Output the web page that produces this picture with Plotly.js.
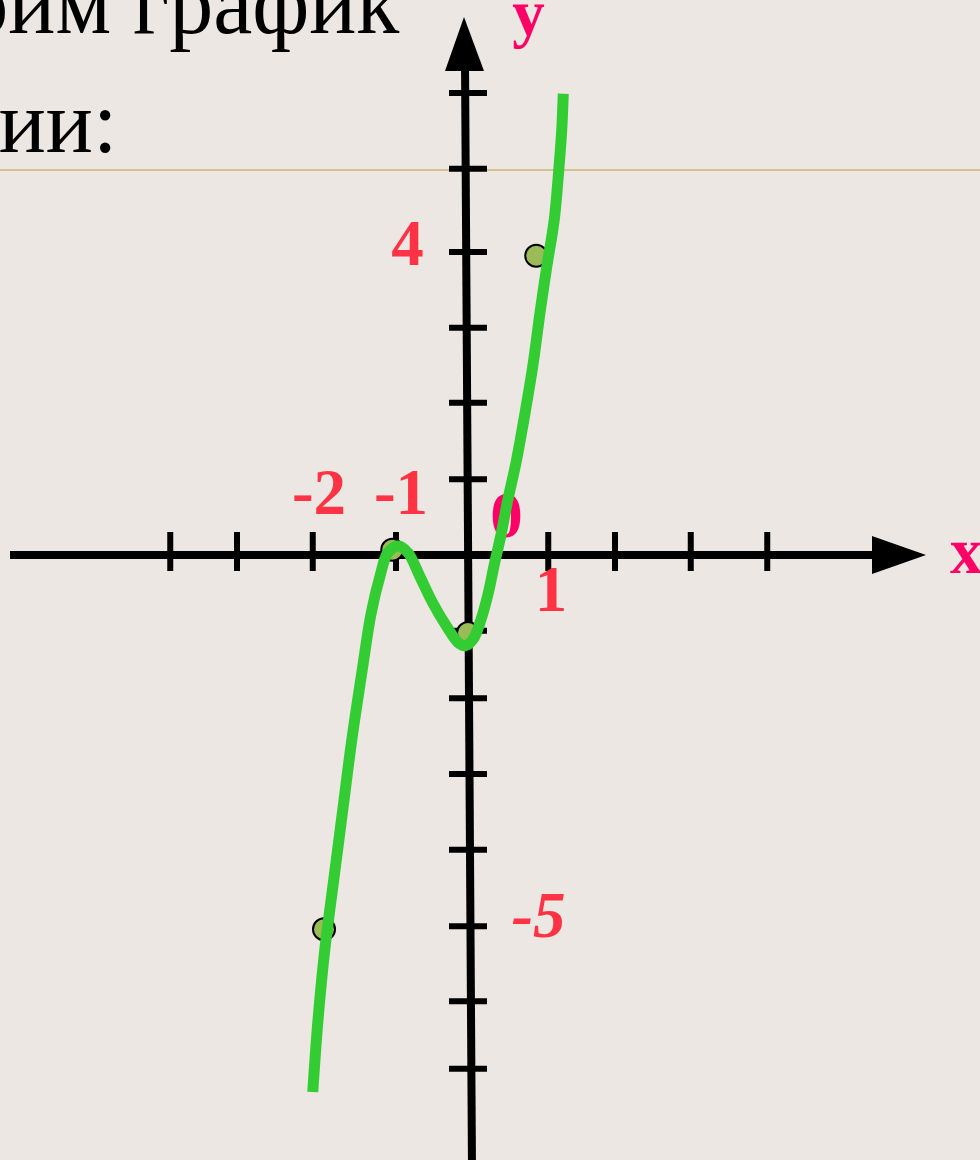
<!DOCTYPE html>
<html><head><meta charset="utf-8">
<script src="https://cdn.plot.ly/plotly-3.0.1.min.js"></script>
<style>html,body{margin:0;padding:0;background:#ECE7E2;overflow:hidden;} #chart{width:980px;height:1160px;}</style>
</head><body><div id="chart"></div>
<script>
// ---- data (axis units) ----
const curveX = [-2.07, -2.00, -1.91, -1.79, -1.67, -1.55, -1.41, -1.29, -1.17, -1.07, -0.93, -0.80, -0.64, -0.47, -0.28, -0.13, -0.04, 0.07, 0.17, 0.27, 0.35, 0.44, 0.53, 0.64, 0.76, 0.87, 0.96, 1.05, 1.15, 1.21, 1.25, 1.27];
const curveY = [-7.16, -6.20, -5.27, -4.33, -3.40, -2.47, -1.53, -0.77, -0.27, 0.03, 0.12, 0.03, -0.29, -0.64, -0.96, -1.17, -1.21, -1.12, -0.87, -0.51, -0.13, 0.27, 0.73, 1.23, 1.89, 2.56, 3.23, 3.84, 4.47, 5.13, 5.67, 6.15];
const pointX = [-1.92, -1.01, 0.00, 0.91];
const pointY = [-4.99, 0.07, -1.04, 3.99];
const xTickVals = [-3.97, -3.08, -2.07, -0.96, 1.07, 1.96, 2.97, 3.99];
const yTickVals = [6.16, 5.15, 4.04, 3.03, 2.03, 1.01, -1.01, -1.91, -2.92, -3.93, -4.95, -5.95, -6.85];
const axisLabels = ['-2', '-1', '0', '1', '4', '-5'];
const axisNames = ['x', 'y'];
const titleLines = ['Построим график', 'функции:'];

// ---- layout geometry (pixels -> axis units) ----
const W = 980, H = 1160, OX = 468, OY = 555, U = 75;
const dx = p => (p - OX) / U;
const dy = p => (OY - p) / U;
const SERIF = 'Liberation Serif, Times New Roman, serif';
const RED = '#FF3344', MAG = '#FF0066';

const shapes = [];
// tan rule
shapes.push({type:'line', xref:'paper', yref:'paper', x0:0, x1:1, y0:1-170/H, y1:1-170/H, line:{color:'#D3C28F', width:2}, layer:'below'});
// x axis
shapes.push({type:'line', xref:'x', yref:'y', x0:dx(10), x1:dx(880), y0:0, y1:0, line:{color:'#000', width:8}, layer:'below'});
shapes.push({type:'path', xref:'x', yref:'y', path:`M${dx(926)},0 L${dx(872)},${dy(536)} L${dx(872)},${dy(574)} Z`, fillcolor:'#000', line:{width:0}, layer:'below'});
// y axis
shapes.push({type:'line', xref:'x', yref:'y', x0:dx(465), x1:dx(472), y0:dy(62), y1:dy(1170), line:{color:'#000', width:8}, layer:'below'});
shapes.push({type:'path', xref:'x', yref:'y', path:`M${dx(464)},${dy(17)} L${dx(445)},${dy(71)} L${dx(484)},${dy(71)} Z`, fillcolor:'#000', line:{width:0}, layer:'below'});
xTickVals.forEach(v => shapes.push({type:'line', xref:'x', yref:'y', x0:v, x1:v, y0:dy(532), y1:dy(571), line:{color:'#000', width:6}, layer:'below'}));
yTickVals.forEach(v => shapes.push({type:'line', xref:'x', yref:'y', x0:dx(449), x1:dx(487), y0:v, y1:v, line:{color:'#000', width:6}, layer:'below'}));

const labelTrace = {
  type:'scatter', mode:'text', hoverinfo:'skip',
  x:[dx(319), dx(401), dx(506.5), dx(551), dx(407.5), dx(538.5)],
  y:[dy(497.5), dy(497.5), dy(521), dy(595), dy(248.5), dy(920.5)],
  text: axisLabels.map((t,i) => i === 5 ? '<b><i>'+t+'</i></b>' : '<b>'+t+'</b>'),
  textposition:'middle center',
  textfont:{family:SERIF, size:65, color:[RED, RED, MAG, RED, RED, RED]}
};
const nameTrace = {
  type:'scatter', mode:'text', hoverinfo:'skip',
  x:[dx(950), dx(528.5)], y:[dy(557), dy(19)],
  text: axisNames.map(t => '<b>'+t+'</b>'),
  textposition:['middle right', 'middle center'],
  textfont:{family:SERIF, size:65, color:MAG}
};
const pointTrace = {
  type:'scatter', mode:'markers', x:pointX, y:pointY, hoverinfo:'skip',
  marker:{size:22, color:'#9BBB59', line:{color:'#000', width:2}}
};
const curveTrace = {
  type:'scatter', mode:'lines', x:curveX, y:curveY, hoverinfo:'skip',
  line:{color:'#33CC33', width:11, shape:'spline', smoothing:1}
};

const layout = {
  width:W, height:H, margin:{l:0, r:0, t:0, b:0},
  paper_bgcolor:'#ECE7E2', plot_bgcolor:'#ECE7E2', showlegend:false,
  xaxis:{range:[dx(0), dx(W)], visible:false, fixedrange:true},
  yaxis:{range:[dy(H), dy(0)], visible:false, fixedrange:true},
  shapes:shapes,
  annotations:[
    {xref:'paper', yref:'paper', x:401/W, y:1-3/H, xanchor:'right', yanchor:'middle', showarrow:false, text:titleLines[0], font:{family:SERIF, size:88, color:'#000'}},
    {xref:'paper', yref:'paper', x:119/W, y:1-122/H, xanchor:'right', yanchor:'middle', showarrow:false, text:titleLines[1], font:{family:SERIF, size:88, color:'#000'}}
  ]
};
Plotly.newPlot('chart', [labelTrace, nameTrace, pointTrace, curveTrace], layout, {staticPlot:true, displayModeBar:false});
</script></body></html>
